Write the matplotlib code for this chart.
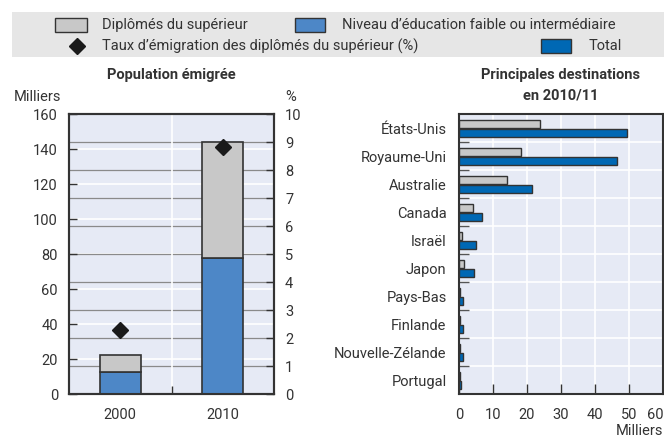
import matplotlib
matplotlib.use("Agg")
import matplotlib.pyplot as plt
from matplotlib.patches import Rectangle
from matplotlib.lines import Line2D
import numpy as np

plt.rcParams['font.family'] = ['Roboto', 'DejaVu Sans']

# ---- data ----
years = ["2000", "2010"]
low_mid = [12.7, 77.9]          # Niveau d'éducation faible ou intermédiaire (milliers)
tertiary = [9.6, 66.1]          # Diplômés du supérieur (milliers), stacked on top
emig_rate = [2.29, 8.84]        # Taux d'émigration des diplômés du supérieur (%)

countries = ["États-Unis", "Royaume-Uni", "Australie", "Canada", "Israël",
             "Japon", "Pays-Bas", "Finlande", "Nouvelle-Zélande", "Portugal"]
dest_tertiary = [23.7, 18.1, 14.1, 4.1, 0.9, 1.6, 0.4, 0.4, 0.4, 0.3]
dest_total = [49.4, 46.5, 21.5, 6.8, 4.9, 4.5, 1.2, 1.2, 1.2, 0.7]

left_ticks = [0, 20, 40, 60, 80, 100, 120, 140, 160]
right_ticks = list(range(0, 11))
dest_ticks = [0, 10, 20, 30, 40, 50, 60]

# ---- style ----
C_GRAY = "#C8C8C8"
C_BLUE = "#4D87C7"
C_TOTAL = "#0068B4"
C_BG = "#E6EAF5"
C_EDGE = "#333333"
C_TXT = "#333333"
FS = 10.5

W, H = 664, 438
fig = plt.figure(figsize=(W / 100, H / 100), dpi=100)

def fx(px):
    return px / W

def fy(py):
    return 1 - py / H

# ---- legend band ----
fig.patches.append(Rectangle((fx(12), fy(57)), fx(664 - 12), (57 - 12) / H,
                             transform=fig.transFigure, facecolor="#E6E6E6",
                             edgecolor="none", zorder=0))
def leg_patch(x0, x1, yc, color):
    fig.patches.append(Rectangle((fx(x0), fy(yc + 7)), fx(x1 - x0), 14 / H,
                                 transform=fig.transFigure, facecolor=color,
                                 edgecolor=C_EDGE, linewidth=1.0, zorder=2))
r1, r2 = 25, 46
leg_patch(55, 87, r1, C_GRAY)
fig.text(fx(102), fy(r1), "Diplômés du supérieur", fontsize=FS, color=C_TXT, va="center")
leg_patch(295, 325, r1, C_BLUE)
fig.text(fx(342), fy(r1), "Niveau d’éducation faible ou intermédiaire", fontsize=FS, color=C_TXT, va="center")
fig.lines.append(Line2D([fx(77)], [fy(r2)], marker="D", markersize=8.5, color="#1a1a1a",
                        transform=fig.transFigure))
fig.text(fx(102), fy(r2), "Taux d’émigration des diplômés du supérieur (%)", fontsize=FS, color=C_TXT, va="center")
leg_patch(541, 571, r2, C_TOTAL)
fig.text(fx(589), fy(r2), "Total", fontsize=FS, color=C_TXT, va="center")

# ---- left panel ----
ax = fig.add_axes([fx(69), fy(394.3), fx(205), 280 / H])
ax.set_facecolor(C_BG)
x = np.arange(len(years))
ax.set_xlim(-0.5, 1.5)
ax.set_ylim(0, 160)
for t in left_ticks[1:-1]:
    ax.axhline(t, color="white", lw=1.2, zorder=1)
for t in right_ticks[1:-1]:
    ax.axhline(t * 16, color="#8a8a8a", lw=0.9, zorder=1)
ax.axvline(0.5, color="white", lw=1.2, zorder=1)
ax.bar(x, low_mid, width=0.4, color=C_BLUE, edgecolor=C_EDGE, linewidth=1.2, zorder=3)
ax.bar(x, tertiary, bottom=low_mid, width=0.4, color=C_GRAY, edgecolor=C_EDGE, linewidth=1.2, zorder=3)
ax.set_xticks(x)
ax.set_xticklabels(years)
ax.set_xticks([0.5], minor=True)
ax.tick_params(axis="x", which="major", length=0, pad=10, labelsize=FS, labelcolor=C_TXT)
ax.tick_params(axis="x", which="minor", length=6, direction="in", color=C_EDGE, width=1)
ax.set_yticks(left_ticks)
ax.tick_params(axis="y", direction="in", length=6, width=1, color=C_EDGE, pad=8,
               labelsize=FS, labelcolor=C_TXT)
for s in ax.spines.values():
    s.set_color(C_EDGE)
    s.set_linewidth(1.5)

ax2 = ax.twinx()
ax2.set_ylim(0, 10)
ax2.set_yticks(right_ticks)
ax2.tick_params(axis="y", direction="in", length=6, width=1, color=C_EDGE, pad=8,
                labelsize=FS, labelcolor=C_TXT)
ax2.plot(x, emig_rate, linestyle="none", marker="D", markersize=8.5, color="#1a1a1a", zorder=5)
for s in ax2.spines.values():
    s.set_color(C_EDGE)
    s.set_linewidth(1.5)

fig.text(fx(171.5), fy(75), "Population émigrée", fontsize=FS, fontweight="bold",
         color=C_TXT, ha="center", va="center")
fig.text(fx(61), fy(97), "Milliers", fontsize=FS, color=C_TXT, ha="right", va="center")
fig.text(fx(285), fy(97), "%", fontsize=FS, color=C_TXT, ha="left", va="center")

# ---- right panel ----
bx = fig.add_axes([fx(459), fy(394.3), fx(204), 280 / H])
bx.set_facecolor(C_BG)
n = len(countries)
pos = np.arange(n)
bx.set_ylim(n - 0.5, -0.5)
bx.set_xlim(0, 60)
for t in dest_ticks[1:-1]:
    bx.axvline(t, color="white", lw=1.2, zorder=1)
for b in np.arange(0.5, n - 0.5, 1):
    bx.axhline(b, color="white", lw=1.2, zorder=1)
bh = 0.28
bx.barh(pos - 0.155, dest_tertiary, height=bh, color=C_GRAY, edgecolor=C_EDGE, linewidth=1.0, zorder=3)
bx.barh(pos + 0.155, dest_total, height=bh, color=C_TOTAL, edgecolor=C_EDGE, linewidth=1.0, zorder=3)
bx.set_yticks(pos)
bx.set_yticklabels(countries)
bx.set_yticks(np.arange(0.5, n - 0.5, 1), minor=True)
bx.tick_params(axis="y", which="major", length=0, pad=9, labelsize=FS, labelcolor=C_TXT)
bx.tick_params(axis="y", which="minor", length=7, direction="in", color="#555555", width=1)
bx.set_xticks(dest_ticks)
bx.set_xticklabels([str(t) for t in dest_ticks])
bx.tick_params(axis="x", direction="in", length=7, width=1, color=C_EDGE, pad=10,
               labelsize=FS, labelcolor=C_TXT)
bx.get_xticklabels()[-1].set_horizontalalignment("right")
for s in bx.spines.values():
    s.set_color(C_EDGE)
    s.set_linewidth(1.5)

fig.text(fx(561), fy(75), "Principales destinations", fontsize=FS, fontweight="bold",
         color=C_TXT, ha="center", va="center")
fig.text(fx(561), fy(95), "en 2010/11", fontsize=FS, fontweight="bold",
         color=C_TXT, ha="center", va="center")
fig.text(fx(663), fy(431), "Milliers", fontsize=FS, color=C_TXT, ha="right", va="center")

fig.savefig("out.png", dpi=100)
